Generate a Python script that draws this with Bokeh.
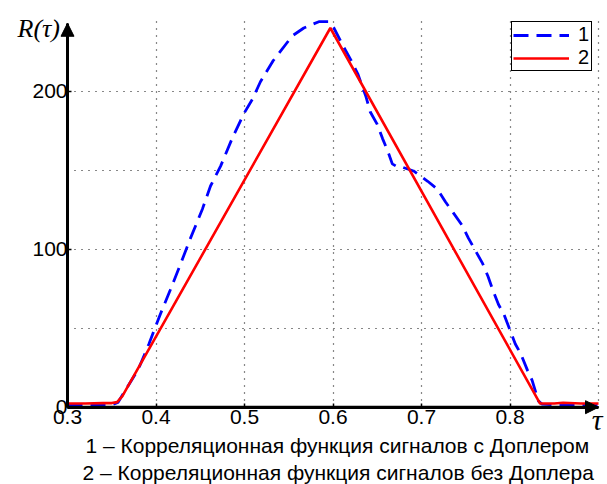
from bokeh.plotting import figure
from bokeh.models import (Range1d, FixedTicker, Label, Arrow, NormalHead, Legend, LegendItem)
from bokeh.embed import file_html
from bokeh.resources import INLINE

# Series 1: correlation with Doppler (blue dashed)
tau1 = [0.300, 0.320, 0.350, 0.357, 0.363, 0.380, 0.392, 0.405, 0.416, 0.428, 0.439,
        0.4525, 0.4616, 0.473, 0.486, 0.499, 0.509, 0.518, 0.532, 0.554, 0.567, 0.584,
        0.595, 0.601, 0.612, 0.620, 0.628, 0.637, 0.642, 0.650, 0.656, 0.662, 0.667,
        0.673, 0.678, 0.691, 0.707, 0.718, 0.727, 0.736, 0.746, 0.753, 0.761, 0.769,
        0.775, 0.781, 0.787, 0.793, 0.806, 0.812, 0.820, 0.825, 0.832, 0.836, 0.850,
        0.870, 0.900]
r1 = [1.5, 1.5, 1.5, 3, 8.5, 24, 40, 59, 74, 91, 107,
      125.5, 140, 152.6, 170, 185.5, 195, 206, 219, 235, 240, 244,
      244, 240, 228, 220, 211, 197, 187, 179, 170, 162, 154,
      152, 152, 149.5, 143, 138, 130, 123, 115, 107, 99, 91,
      83, 73.5, 65, 59, 40, 34, 23, 17, 4, 2, 1.5,
      1.5, 1.5]

# Series 2: correlation without Doppler (red solid)
tau2 = [0.300, 0.320, 0.340, 0.350, 0.356, 0.362, 0.597, 0.834, 0.850, 0.860, 0.880, 0.900]
r2 = [2.3, 2.3, 2.6, 2.6, 3.2, 7.0, 240, 2.3, 2.3, 2.8, 2.3, 2.3]

x_ticks = [0.3, 0.4, 0.5, 0.6, 0.7, 0.8]
x_grid = [0.4, 0.5, 0.6, 0.7, 0.8, 0.9]
y_ticks = [0, 100, 200]
y_grid = [50, 100, 150, 200]
legend_labels = ["1", "2"]
y_label = "R(\u03c4)"
x_label = "\u03c4"
caption1 = "1 \u2013 Корреляционная функция сигналов с Доплером"
caption2 = "2 \u2013 Корреляционная функция сигналов без Доплера"

FONT = "Liberation Sans"
SERIF = "Liberation Serif"

# ---- layout: the frame covers the whole canvas; axes drawn at fixed locations ----
W, H = 607, 484
X_MIN, X_MAX = 0.3, 0.9          # plotted tau extent
Y_MIN, Y_BOX = 0.0, 248.0        # plotted R extent (grid box)
Y_ARROW = 243.0                  # top of the vertical axis arrow
PX_X, PX_Y = 885.0, 1.58         # pixels per data unit
LEFT_PX, BOTTOM_PX = 67.0, 406.7 # canvas position of (0.3, 0)

x_start = X_MIN - LEFT_PX / PX_X
x_end = x_start + W / PX_X
y_top = Y_MIN + BOTTOM_PX / PX_Y
y_bot = y_top - H / PX_Y


def cx(px):
    return x_start + px / PX_X


def cy(py):
    return y_top - py / PX_Y


p = figure(width=W, height=H, output_backend="svg", toolbar_location=None,
           x_range=Range1d(x_start, x_end), y_range=Range1d(y_bot, y_top),
           min_border=0, min_border_left=0, min_border_right=0,
           min_border_top=0, min_border_bottom=0)
p.outline_line_color = None
p.background_fill_color = "white"
p.border_fill_color = "white"

# grids
GRID_COLOR = "#111111"
p.xgrid.ticker = FixedTicker(ticks=x_grid)
p.ygrid.ticker = FixedTicker(ticks=y_grid)
for g in (p.xgrid, p.ygrid):
    g.grid_line_color = GRID_COLOR
    g.grid_line_dash = "1 6"
    g.grid_line_width = 1.2
try:
    p.xgrid.cross_bounds = (Y_MIN, Y_BOX)
    p.ygrid.cross_bounds = (X_MIN, X_MAX)
except AttributeError:
    p.xgrid.visible = False
    p.ygrid.visible = False
    p.segment(x0=x_grid, y0=[Y_MIN] * len(x_grid), x1=x_grid, y1=[Y_BOX] * len(x_grid),
              line_color=GRID_COLOR, line_dash="1 6", line_width=1.2)
    p.segment(x0=[X_MIN] * len(y_grid), y0=y_grid, x1=[X_MAX] * len(y_grid), y1=y_grid,
              line_color=GRID_COLOR, line_dash="1 6", line_width=1.2)

# axes
p.xaxis.ticker = FixedTicker(ticks=x_ticks)
p.yaxis.ticker = FixedTicker(ticks=y_ticks)
p.xaxis.fixed_location = Y_MIN
p.yaxis.fixed_location = X_MIN
p.xaxis.bounds = (X_MIN, X_MAX)
p.yaxis.bounds = (Y_MIN, Y_ARROW)
for ax in (p.xaxis, p.yaxis):
    ax.axis_line_width = 3
    ax.axis_line_color = "black"
    ax.major_tick_in = 4
    ax.major_tick_out = 0
    ax.major_tick_line_width = 1.5
    ax.major_tick_line_color = "black"
    ax.minor_tick_line_color = None
    ax.major_label_text_font = FONT
    ax.major_label_text_font_size = "21px"
    ax.major_label_text_color = "black"
p.xaxis.major_label_standoff = 3
p.yaxis.major_label_standoff = 0

r_blue = p.line(tau1, r1, line_color="#0000ff", line_width=2.8, line_dash="15 8")
r_red = p.line(tau2, r2, line_color="#ff0000", line_width=2.6)

# axis arrows
p.add_layout(Arrow(end=NormalHead(size=13, fill_color="black", line_color="black"),
                   x_start=X_MIN, y_start=Y_MIN, x_end=X_MIN, y_end=Y_ARROW,
                   line_width=3, line_color="black"))
p.add_layout(Arrow(end=NormalHead(size=13, fill_color="black", line_color="black"),
                   x_start=X_MIN, y_start=Y_MIN, x_end=X_MAX, y_end=Y_MIN,
                   line_width=3, line_color="black"))

legend = Legend(items=[LegendItem(label=legend_labels[0], renderers=[r_blue]),
                       LegendItem(label=legend_labels[1], renderers=[r_red])],
                location=(511, H - 71), margin=0, padding=1, spacing=0,
                glyph_width=56, glyph_height=20, label_height=20, label_width=12,
                label_standoff=9,
                label_text_font=FONT, label_text_font_size="20px", label_text_color="black",
                border_line_color="black", border_line_width=1.5, border_line_alpha=1,
                background_fill_color="white", background_fill_alpha=1)
p.add_layout(legend, "center")

# axis titles
p.add_layout(Label(x=cx(17), y=cy(28), text=y_label, text_font=SERIF, text_font_style="italic",
                   text_font_size="26px", text_color="black",
                   text_baseline="middle", text_align="left"))
p.add_layout(Label(x=cx(602), y=cy(402), text=x_label, text_font=SERIF, text_font_style="italic",
                   text_font_size="30px", text_color="black",
                   text_baseline="top", text_align="right"))

# captions
p.add_layout(Label(x=cx(85), y=cy(445), text=caption1, text_font=FONT, text_font_size="21px",
                   text_color="black", text_baseline="middle", text_align="left"))
p.add_layout(Label(x=cx(82), y=cy(472), text=caption2, text_font=FONT, text_font_size="21px",
                   text_color="black", text_baseline="middle", text_align="left"))

open("out.html", "w").write(file_html(p, INLINE))
